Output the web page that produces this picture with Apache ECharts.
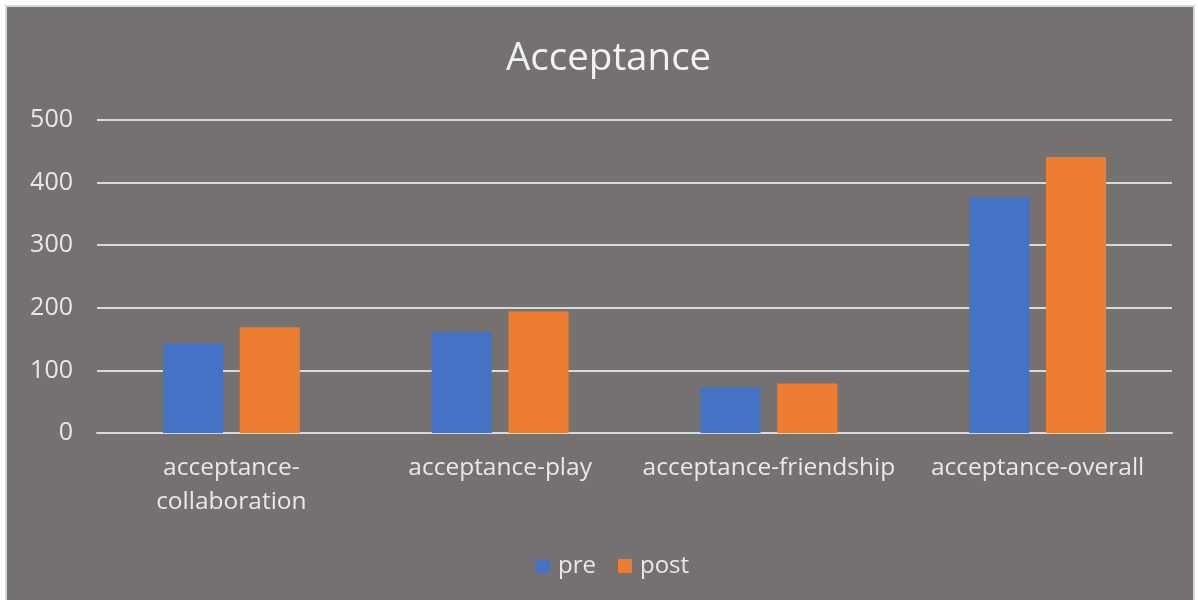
<!DOCTYPE html>
<html>
<head>
<meta charset="utf-8">
<script src="https://cdn.jsdelivr.net/npm/echarts@6/dist/echarts.min.js"></script>
<style>
html,body{margin:0;padding:0;background:#ffffff;width:1198px;height:600px;overflow:hidden;}
#frame{position:absolute;left:5px;top:5px;width:1186px;height:600px;border:2px solid #d6d6d6;border-bottom:none;background:#767171;}
#chart{width:1186px;height:598px;}
</style>
</head>
<body>
<div id="frame"><div id="chart"></div></div>
<script>
var categories = ["acceptance-collaboration", "acceptance-play", "acceptance-friendship", "acceptance-overall"];
var preValues = [143, 161, 72, 377];
var postValues = [169, 194, 79, 441];
var seriesNames = ["pre", "post"];
var titleText = "Acceptance";

var chart = echarts.init(document.getElementById('chart'), null, {renderer: 'canvas'});
var font = "'Open Sans', 'Liberation Sans', sans-serif";
chart.setOption({
  backgroundColor: '#767171',
  animation: false,
  title: {
    text: titleText,
    left: 494,
    top: 28,
    textStyle: {color: '#f2f2f2', fontSize: 38.5, fontWeight: 'normal', fontFamily: font}
  },
  legend: {
    data: seriesNames,
    bottom: 22,
    left: 524,
    itemWidth: 14,
    itemHeight: 14,
    itemGap: 22,
    icon: 'rect',
    textStyle: {color: '#e8e8e8', fontSize: 24, fontFamily: font, padding: [0, 0, 0, 3]}
  },
  grid: {left: 90, right: 21, top: 113, bottom: 172, containLabel: false},
  xAxis: {
    type: 'category',
    data: categories,
    axisLine: {show: true, lineStyle: {color: '#d9d9d9', width: 2}},
    axisTick: {show: false},
    axisLabel: {
      color: '#e8e8e8', fontSize: 24.5, fontFamily: font, margin: 18, lineHeight: 34, interval: 0,
      formatter: function (v) { return v === "acceptance-collaboration" ? "acceptance-\ncollaboration" : v; }
    }
  },
  yAxis: {
    type: 'value',
    min: 0, max: 500, interval: 100,
    axisLine: {show: false},
    axisTick: {show: false},
    splitLine: {lineStyle: {color: '#d9d9d9', width: 2}},
    axisLabel: {color: '#e8e8e8', fontSize: 25, fontFamily: font, margin: 24}
  },
  series: [
    {name: seriesNames[0], type: 'bar', data: preValues, barWidth: 60, barGap: '28%', itemStyle: {color: '#4472c4'}},
    {name: seriesNames[1], type: 'bar', data: postValues, barWidth: 60, barGap: '28%', itemStyle: {color: '#ed7d31'}}
  ]
});
</script>
</body>
</html>
